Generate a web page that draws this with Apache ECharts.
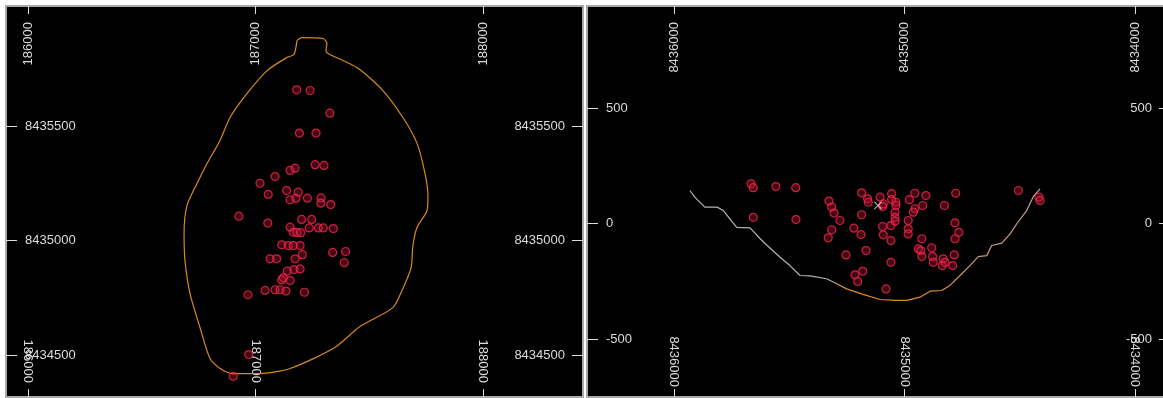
<!DOCTYPE html>
<html>
<head>
<meta charset="utf-8">
<script src="https://cdn.jsdelivr.net/npm/echarts@6/dist/echarts.min.js"></script>
<style>
html,body{margin:0;padding:0;background:#fff;}
#chart{width:1163px;height:398px;}
</style>
</head>
<body>
<div id="chart"></div>
<script>
// ---------- DATA ----------
// Plan view (easting, northing)
const planTicksX = [186000, 187000, 188000];
const planTicksY = [8434500, 8435000, 8435500];
const planOutline = [
  [187182,8435873],[187204,8435886],[187297,8435882],[187314,8435860],[187310,8435830],
  [187319,8435817],[187446,8435755],[187556,8435659],[187648,8435537],[187710,8435424],
  [187745,8435293],[187758,8435197],[187754,8435131],[187710,8435057],[187692,8434978],
  [187684,8434882],[187644,8434782],[187604,8434707],[187459,8434624],[187349,8434533],
  [187152,8434441],[187020,8434419],[186901,8434419],[186844,8434441],[186800,8434485],
  [186756,8434620],[186712,8434769],[186690,8434913],[186686,8435031],[186699,8435153],
  [186743,8435249],[186787,8435336],[186844,8435437],[186888,8435537],[186963,8435642],
  [187051,8435742],[187138,8435799],[187169,8435812],[187182,8435873]
];
const planHoles = [
  [187181,8435658],[187240,8435655],[187327,8435556],[187193,8435469],[187266,8435469],
  [187152,8435306],[187174,8435316],[187262,8435331],[187301,8435328],[187086,8435279],
  [187020,8435250],[187056,8435201],[187137,8435218],[187188,8435211],[187152,8435178],
  [187178,8435185],[187228,8435185],[187288,8435186],[187287,8435163],[187331,8435157],
  [186927,8435106],[187054,8435076],[187203,8435092],[187247,8435092],[187152,8435058],
  [187236,8435055],[187276,8435055],[187298,8435055],[187342,8435052],[187166,8435036],
  [187182,8435035],[187199,8435034],[187115,8434981],[187144,8434978],[187166,8434978],
  [187196,8434978],[187339,8434948],[187396,8434952],[187390,8434903],[187064,8434920],
  [187093,8434920],[187174,8434920],[187206,8434938],[187140,8434866],[187169,8434873],
  [187196,8434876],[187115,8434828],[187122,8434837],[187152,8434825],[187042,8434782],
  [187086,8434785],[187108,8434785],[187134,8434779],[187215,8434774],[186967,8434763],
  [186970,8434502],[186902,8434407]
];
// Section view (northing, elevation)
const sectionTicksX = [8434000, 8435000, 8436000];
const sectionTicksY = [-500, 0, 500];
const sectionProfile = [
  [8435931,143],[8435909,113],[8435866,71],[8435813,71],[8435786,56],[8435728,-17],
  [8435670,-19],[8435627,-65],[8435598,-93],[8435540,-146],[8435497,-182],[8435453,-225],
  [8435410,-227],[8435338,-239],[8435294,-261],[8435251,-283],[8435180,-307],[8435106,-329],
  [8435041,-333],[8434989,-333],[8434933,-319],[8434889,-293],[8434839,-290],[8434803,-268],
  [8434759,-225],[8434716,-182],[8434680,-143],[8434643,-139],[8434622,-95],[8434578,-85],
  [8434542,-45],[8434513,-1],[8434470,56],[8434441,117],[8434412,150]
];
const sectionHoles = [
  [8435666,172],[8435656,155],[8435558,160],[8435472,155],[8435656,27],[8435471,17],
  [8435328,97],[8435316,71],[8435306,45],[8435280,13],[8435316,-27],[8435331,-62],
  [8435186,133],[8435160,107],[8435157,92],[8435186,38],[8435220,-20],[8435189,-48],
  [8435254,-136],[8435167,-117],[8435181,-207],[8435215,-222],[8435203,-251],
  [8435106,114],[8435092,85],[8435095,74],[8435056,129],[8435056,104],[8435037,92],
  [8435037,78],[8435041,49],[8435041,27],[8435041,10],[8434979,103],[8434955,131],
  [8434955,64],[8434962,49],[8434907,121],[8434921,78],[8434984,13],[8434984,-23],
  [8434984,-45],[8435095,-13],[8435059,-9],[8435092,-49],[8435059,-74],[8435059,-168],
  [8435080,-283],[8434925,-66],[8434940,-110],[8434929,-117],[8434882,-105],[8434925,-143],
  [8434878,-143],[8434875,-168],[8434827,78],[8434778,131],[8434781,3],[8434764,-38],
  [8434781,-66],[8434832,-153],[8434836,-182],[8434824,-168],[8434784,-136],[8434791,-182],
  [8434506,143],[8434417,114],[8434412,100]
];
const sectionCross = [[8435115,78]];

// ---------- CHART ----------
const labelColor = '#dcdcdc';
const frameColor = '#a8a8a8';
const fmt = v => String(Math.round(v));

function xAx(grid, pos, min, max, ticks, inverse, margin) {
  return {
    type: 'value', gridIndex: grid, position: pos, min: min, max: max, inverse: inverse,
    splitLine: {show: false},
    axisLine: {show: true, onZero: false, lineStyle: {color: frameColor, width: 2}},
    axisTick: {show: true, inside: true, length: 8, customValues: ticks, lineStyle: {color: labelColor, width: 1}},
    axisLabel: {show: true, inside: true, rotate: -90, margin: margin, customValues: ticks,
      color: labelColor, fontSize: 13, fontFamily: 'Liberation Sans', formatter: fmt}
  };
}
function yAx(grid, pos, min, max, ticks, margin) {
  return {
    type: 'value', gridIndex: grid, position: pos, min: min, max: max,
    splitLine: {show: false},
    axisLine: {show: true, onZero: false, lineStyle: {color: frameColor, width: 2}},
    axisTick: {show: true, inside: true, length: 11, customValues: ticks, lineStyle: {color: labelColor, width: 1}},
    axisLabel: {show: true, inside: true, margin: margin, customValues: ticks,
      color: labelColor, fontSize: 13, fontFamily: 'Liberation Sans', formatter: fmt}
  };
}

const P = {xmin: 185903.3, xmax: 188439.6, ymin: 8434316.6, ymax: 8436024};
const S = {xmin: 8433848.2, xmax: 8436377.4, ymin: -751, ymax: 941.6};

const holeStyle = {color: 'rgba(215,20,60,0.4)', borderColor: '#f2284f', borderWidth: 1.2};

const option = {
  backgroundColor: '#ffffff',
  animation: false,
  grid: [
    {left: 6, top: 6, width: 577, height: 391, show: true, backgroundColor: '#000', borderWidth: 0, containLabel: false, outerBoundsMode: 'none'},
    {left: 587, top: 6, width: 583, height: 391, show: true, backgroundColor: '#000', borderWidth: 0, containLabel: false, outerBoundsMode: 'none'}
  ],
  xAxis: [
    xAx(0, 'bottom', P.xmin, P.xmax, planTicksX, false, 14),
    xAx(0, 'top', P.xmin, P.xmax, planTicksX, false, 16),
    xAx(1, 'bottom', S.xmin, S.xmax, sectionTicksX, true, 10),
    xAx(1, 'top', S.xmin, S.xmax, sectionTicksX, true, 16)
  ],
  yAxis: [
    yAx(0, 'left', P.ymin, P.ymax, planTicksY, 19),
    yAx(0, 'right', P.ymin, P.ymax, planTicksY, 18),
    yAx(1, 'left', S.ymin, S.ymax, sectionTicksY, 19),
    yAx(1, 'right', S.ymin, S.ymax, sectionTicksY, 18)
  ],
  series: [
    {type: 'line', xAxisIndex: 0, yAxisIndex: 0, data: planOutline, showSymbol: false, smooth: 0.25,
      lineStyle: {color: '#d98a1e', width: 1.2}, z: 2},
    {type: 'scatter', xAxisIndex: 0, yAxisIndex: 0, data: planHoles, symbol: 'circle', symbolSize: 8,
      itemStyle: holeStyle, z: 3},
    {type: 'line', xAxisIndex: 2, yAxisIndex: 2, data: sectionProfile, showSymbol: false, smooth: false,
      lineStyle: {width: 1.2, color: {type: 'linear', x: 0, y: 0, x2: 1, y2: 0, colorStops: [
        {offset: 0, color: '#b4b4b4'}, {offset: 0.38, color: '#b4b4b4'}, {offset: 0.45, color: '#e08a1e'},
        {offset: 0.66, color: '#e08a1e'}, {offset: 0.8, color: '#c89a70'}, {offset: 1, color: '#c8a0a0'}]}}, z: 2},
    {type: 'scatter', xAxisIndex: 2, yAxisIndex: 2, data: sectionHoles, symbol: 'circle', symbolSize: 8,
      itemStyle: holeStyle, z: 3},
    {type: 'scatter', xAxisIndex: 2, yAxisIndex: 2, data: sectionCross,
      symbol: 'path://M0,1L1,0L5,4L9,0L10,1L6,5L10,9L9,10L5,6L1,10L0,9L4,5Z', symbolSize: 8,
      itemStyle: {color: '#d8e0e0'}, z: 4}
  ]
};
const chart = echarts.init(document.getElementById('chart'), null, {renderer: 'canvas'});
chart.setOption(option);
</script>
</body>
</html>
